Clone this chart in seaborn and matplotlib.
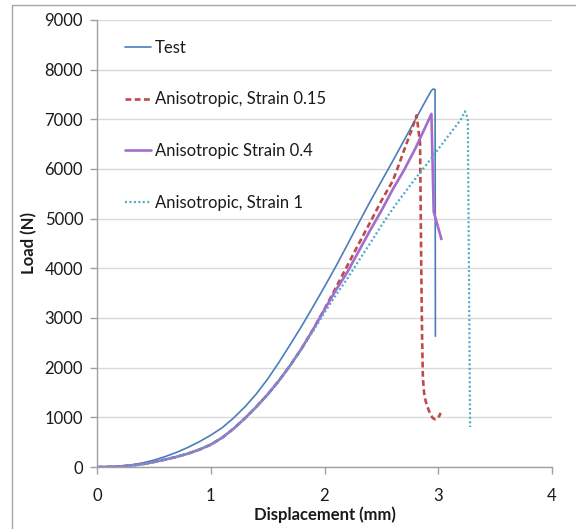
import matplotlib
matplotlib.use("Agg")
import matplotlib.pyplot as plt
from matplotlib.lines import Line2D
import seaborn as sns
import pandas as pd

# Load-displacement curves (mm, N)
test_x = [0, 0.1, 0.2, 0.3, 0.4, 0.5, 0.6, 0.7, 0.8, 0.9, 1.0, 1.1, 1.2, 1.3, 1.4, 1.5, 1.6,
          1.7, 1.8, 1.9, 2.0, 2.1, 2.2, 2.3, 2.4, 2.5, 2.6, 2.7, 2.8, 2.9, 2.94, 2.955, 2.972, 2.975]
test_y = [0, 4, 18, 42, 82, 138, 210, 295, 395, 510, 640, 790, 985, 1210, 1470, 1770, 2110,
          2470, 2840, 3230, 3630, 4040, 4470, 4910, 5340, 5750, 6160, 6580, 7000, 7420, 7580, 7610, 7600, 2620]

aniso015_x = [0, 0.1, 0.2, 0.3, 0.4, 0.5, 0.6, 0.7, 0.8, 0.9, 1.0, 1.1, 1.2, 1.3, 1.4, 1.5, 1.6,
              1.7, 1.8, 1.9, 2.0, 2.1, 2.2, 2.3, 2.4, 2.5, 2.6, 2.64, 2.7, 2.76, 2.81,
              2.84, 2.85, 2.858, 2.865, 2.875, 2.89, 2.91, 2.93, 2.95, 2.97, 2.99, 3.01, 3.02]
aniso015_y = [0, 3, 12, 30, 58, 100, 150, 205, 270, 350, 450, 590, 770, 980, 1210, 1460, 1740,
              2050, 2390, 2770, 3180, 3610, 4050, 4490, 4920, 5360, 5760, 6000, 6380, 6750, 7080,
              6520, 4160, 2600, 1800, 1500, 1320, 1180, 1070, 990, 960, 975, 1030, 1090]

aniso04_x = [0, 0.1, 0.2, 0.3, 0.4, 0.5, 0.6, 0.7, 0.8, 0.9, 1.0, 1.1, 1.2, 1.3, 1.4, 1.5, 1.6,
             1.7, 1.8, 1.9, 2.0, 2.1, 2.2, 2.3, 2.4, 2.5, 2.6, 2.7, 2.8, 2.9, 2.94, 2.96, 3.03]
aniso04_y = [0, 3, 12, 30, 58, 100, 150, 205, 270, 350, 450, 590, 770, 980, 1210, 1460, 1740,
             2050, 2390, 2770, 3170, 3560, 3920, 4340, 4760, 5160, 5590, 5980, 6420, 6910, 7110, 5140, 4570]

aniso1_x = [0, 0.1, 0.2, 0.3, 0.4, 0.5, 0.6, 0.7, 0.8, 0.9, 1.0, 1.1, 1.2, 1.3, 1.4, 1.5, 1.6,
            1.7, 1.8, 1.9, 2.0, 2.1, 2.2, 2.3, 2.4, 2.5, 2.6, 2.7, 2.8, 2.9, 3.0, 3.1, 3.2,
            3.235, 3.26, 3.28]
aniso1_y = [0, 3, 12, 30, 58, 100, 150, 205, 270, 350, 450, 590, 770, 980, 1210, 1460, 1740,
            2050, 2390, 2740, 3110, 3460, 3790, 4150, 4500, 4860, 5200, 5510, 5810, 6100, 6400,
            6700, 7000, 7160, 7020, 805]

labels = ["Test", "Anisotropic, Strain 0.15", "Anisotropic Strain 0.4", "Anisotropic, Strain 1"]
colors = ["#4A7EBB", "#BE4B48", "#A46CCB", "#4BACC6"]

x_ticks = [0, 1, 2, 3, 4]
y_ticks = [0, 1000, 2000, 3000, 4000, 5000, 6000, 7000, 8000, 9000]

sns.set_theme(style="white")
plt.rcParams["font.family"] = ["Lato", "DejaVu Sans"]

fig = plt.figure(figsize=(5.76, 5.29), dpi=100)
ax = fig.add_axes([97 / 576, 1 - 467 / 529, (552 - 97) / 576, (467 - 20) / 529])

series = [(test_x, test_y), (aniso015_x, aniso015_y), (aniso04_x, aniso04_y), (aniso1_x, aniso1_y)]
styles = [
    dict(linewidth=1.2, linestyle="-"),
    dict(linewidth=1.9, dashes=(2.2, 1.3)),
    dict(linewidth=1.9, linestyle="-"),
    dict(linewidth=1.6, dashes=(0.9, 1.1)),
]
handles = []
for (xs, ys), lab, col, st in zip(series, labels, colors, styles):
    df = pd.DataFrame({"Displacement": xs, "Load": ys})
    sns.lineplot(data=df, x="Displacement", y="Load", ax=ax, sort=False,
                 estimator=None, color=col, **st)
    ax.lines[-1].set_solid_capstyle("butt")
    ax.lines[-1].set_solid_joinstyle("round")
    handles.append(Line2D([0], [0], color=col, **st))

ax.set_xlim(0, 4)
ax.set_ylim(0, 9000)
ax.set_xticks(x_ticks)
ax.set_yticks(y_ticks)
ax.yaxis.grid(True, color="#D9D9D9", linewidth=1.0)
ax.set_axisbelow(True)
for s in ["top", "right"]:
    ax.spines[s].set_visible(False)
for s in ["left", "bottom"]:
    ax.spines[s].set_color("#A0A0A0")
    ax.spines[s].set_linewidth(1.0)
ax.tick_params(axis="both", direction="out", length=5, width=1.0, color="#A0A0A0",
               labelsize=12, labelcolor="#1a1a1a", left=True, bottom=True)
ax.tick_params(axis="x", pad=10)
ax.tick_params(axis="y", pad=5)
ax.set_xlabel("Displacement (mm)", fontsize=12, fontweight="bold", color="#1a1a1a", labelpad=2)
ax.set_ylabel("Load (N)", fontsize=12, fontweight="bold", color="#1a1a1a", labelpad=5)

leg = ax.legend(handles, labels, loc="upper left", bbox_to_anchor=(118 / 576, 1 - 33 / 529),
                bbox_transform=fig.transFigure, frameon=False, fontsize=12,
                handlelength=1.6, handletextpad=0.2, labelspacing=2.15, borderaxespad=0)
for t in leg.get_texts():
    t.set_color("#1a1a1a")

# chart frame
fig.add_artist(Line2D([12 / 576, 12 / 576], [0, 1 - 5 / 529], transform=fig.transFigure,
                      color="#A6A6A6", linewidth=1.0))
fig.add_artist(Line2D([12 / 576, 1], [1 - 5 / 529, 1 - 5 / 529], transform=fig.transFigure,
                      color="#A6A6A6", linewidth=1.0))

fig.savefig("out.png", dpi=100)
